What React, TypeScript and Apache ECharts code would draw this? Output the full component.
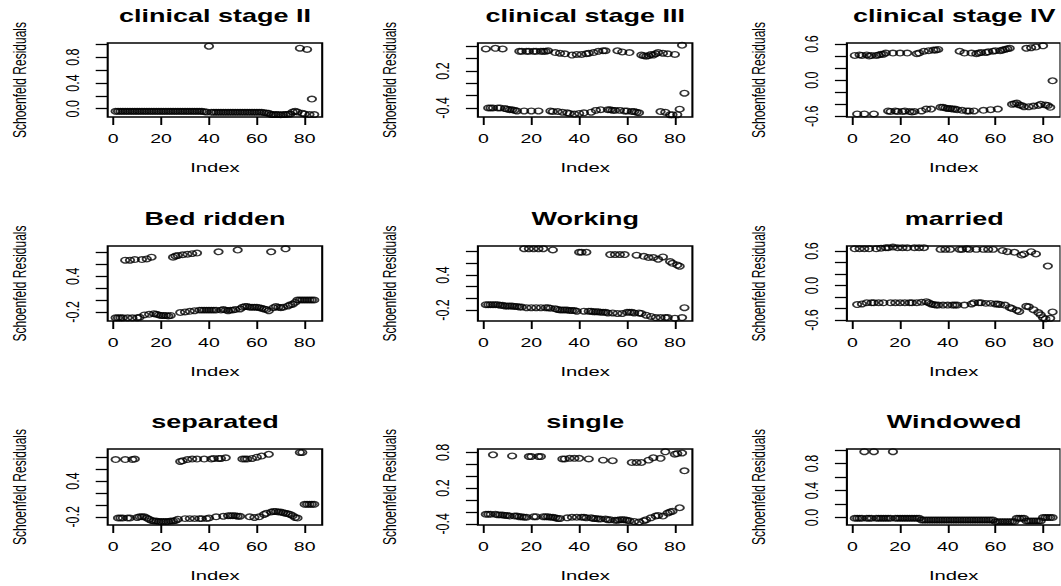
import { useEffect, useRef } from "react";
import * as echarts from "echarts";

// ---------- data ----------
const index: number[] = Array.from({ length: 84 }, (_, i) => i + 1);

const panelTitles = [
  "clinical stage II", "clinical stage III", "clinical stage IV",
  "Bed ridden", "Working", "married",
  "separated", "single", "Windowed",
];

const stageII = [
  -0.04, -0.04, -0.04, -0.04, -0.04, -0.04, -0.04, -0.04, -0.04, -0.04,
  -0.04, -0.04, -0.04, -0.04, -0.04, -0.04, -0.04, -0.04, -0.04, -0.04,
  -0.04, -0.04, -0.04, -0.04, -0.04, -0.04, -0.04, -0.04, -0.04, -0.04,
  -0.04, -0.04, -0.04, -0.04, -0.04, -0.04, -0.04, -0.045, -0.05, 0.97,
  -0.055, -0.055, -0.055, -0.055, -0.055, -0.055, -0.055, -0.055, -0.055, -0.055,
  -0.055, -0.055, -0.055, -0.055, -0.055, -0.055, -0.055, -0.055, -0.055, -0.055,
  -0.055, -0.055, -0.06, -0.065, -0.07, -0.09, -0.09, -0.09, -0.09, -0.095,
  -0.09, -0.09, -0.085, -0.08, -0.05, -0.04, -0.05, 0.94, -0.07, -0.08,
  0.92, -0.09, 0.15, -0.09,
];

const stageIII = [
  0.56, -0.40, -0.40, -0.40, 0.57, -0.40, -0.40, 0.56, -0.41, -0.42,
  -0.43, -0.43, -0.44, -0.45, 0.52, 0.52, -0.45, 0.52, 0.52, -0.45,
  0.52, 0.52, -0.45, 0.52, 0.52, 0.52, 0.53, -0.45, -0.46, 0.50,
  -0.46, 0.49, -0.47, 0.48, -0.48, -0.49, 0.46, -0.50, 0.47, -0.49,
  0.47, -0.48, 0.48, 0.49, -0.47, 0.50, -0.44, 0.52, -0.43, 0.53,
  0.53, -0.43, -0.43, -0.44, -0.44, 0.53, -0.44, 0.51, -0.45, -0.45,
  0.50, -0.46, -0.46, -0.47, -0.48, 0.46, 0.45, 0.44, 0.45, 0.47,
  0.46, 0.48, 0.50, -0.46, 0.49, -0.47, 0.48, -0.51, -0.51, 0.47,
  -0.51, -0.42, 0.62, -0.16,
];

const stageIV = [
  0.41, -0.56, 0.42, 0.41, -0.56, 0.42, 0.40, 0.41, -0.56, 0.41,
  0.42, 0.43, 0.43, 0.45, -0.51, -0.52, 0.45, -0.51, -0.52, 0.45,
  -0.52, -0.51, 0.45, -0.52, -0.53, -0.52, 0.44, 0.45, -0.51, 0.48,
  -0.48, 0.49, -0.48, 0.50, 0.50, 0.51, -0.45, -0.45, -0.46, -0.47,
  -0.47, -0.48, -0.48, -0.49, 0.48, -0.50, 0.45, -0.51, -0.51, 0.45,
  -0.51, 0.44, 0.45, 0.46, -0.50, 0.46, 0.47, -0.49, 0.48, 0.49,
  -0.48, 0.49, 0.50, 0.51, 0.52, 0.53, -0.40, -0.39, -0.38, -0.41,
  -0.42, -0.44, 0.53, -0.44, 0.54, -0.43, 0.55, -0.42, -0.40, 0.57,
  -0.41, -0.42, -0.45, -0.01,
];

const bedRidden = [
  -0.30, -0.30, -0.30, -0.30, 0.67, -0.30, 0.67, -0.30, 0.68, -0.30,
  -0.29, 0.68, -0.25, 0.69, -0.24, 0.72, -0.23, -0.24, -0.25, -0.26,
  -0.26, -0.26, -0.27, -0.26, 0.72, 0.74, 0.75, -0.21, 0.76, -0.20,
  0.77, -0.19, 0.78, -0.18, 0.79, -0.17, -0.17, -0.17, -0.17, -0.17,
  -0.17, -0.17, -0.17, 0.81, -0.17, -0.16, -0.17, -0.18, -0.17, -0.17,
  -0.16, 0.84, -0.15, -0.12, -0.11, -0.11, -0.12, -0.12, -0.12, -0.12,
  -0.13, -0.14, -0.15, -0.16, -0.18, 0.81, -0.13, -0.11, -0.12, -0.13,
  -0.12, 0.86, -0.10, -0.08, -0.07, -0.04, 0.00, 0.00, 0.00, 0.00,
  0.00, 0.00, 0.00, 0.00,
];

const working = [
  -0.11, -0.11, -0.11, -0.11, -0.11, -0.11, -0.12, -0.12, -0.13, -0.13,
  -0.13, -0.13, -0.14, -0.14, -0.15, -0.15, 0.85, -0.16, 0.85, -0.16,
  0.85, -0.16, 0.85, -0.16, 0.85, -0.16, -0.16, -0.17, 0.83, -0.18,
  -0.19, -0.20, -0.20, -0.20, -0.20, -0.21, -0.21, -0.21, -0.22, 0.79,
  0.79, -0.22, 0.79, -0.22, -0.22, -0.23, -0.23, -0.23, -0.24, -0.24,
  -0.24, -0.25, 0.75, -0.25, 0.75, -0.26, 0.75, -0.26, 0.75, -0.24,
  -0.24, -0.24, -0.25, 0.74, -0.25, -0.26, 0.72, -0.29, 0.70, -0.31,
  0.70, -0.33, 0.67, -0.33, 0.71, -0.33, -0.33, 0.63, 0.60, -0.34,
  0.57, 0.55, -0.33, -0.16,
];

const married = [
  0.64, -0.33, 0.64, -0.32, 0.64, -0.30, 0.64, -0.30, -0.30, 0.64,
  -0.30, 0.65, -0.30, 0.66, 0.66, -0.30, 0.67, -0.30, 0.66, -0.30,
  0.66, -0.30, 0.66, -0.30, -0.30, 0.66, -0.30, 0.66, -0.29, 0.66,
  -0.28, -0.30, -0.32, -0.33, -0.34, -0.34, 0.63, -0.34, 0.63, -0.34,
  0.63, -0.34, -0.34, -0.34, 0.63, 0.63, -0.34, 0.64, 0.63, -0.32,
  -0.30, 0.63, -0.30, -0.30, 0.63, -0.31, 0.63, -0.31, 0.63, -0.32,
  -0.32, -0.33, 0.61, -0.34, 0.59, -0.38, -0.40, 0.58, -0.43, -0.45,
  0.53, 0.55, -0.36, -0.37, 0.59, -0.42, 0.55, -0.47, -0.51, -0.56,
  -0.58, 0.34, -0.57, -0.46,
];

const separated = [
  0.76, -0.22, -0.22, -0.22, 0.76, -0.22, -0.22, 0.76, 0.77, -0.21,
  -0.20, -0.20, -0.20, -0.22, -0.24, -0.26, -0.27, -0.27, -0.28, -0.28,
  -0.28, -0.28, -0.28, -0.27, -0.27, -0.26, -0.24, 0.73, 0.74, -0.23,
  0.76, -0.23, 0.77, -0.23, 0.77, -0.23, -0.23, 0.77, -0.23, -0.22,
  0.77, 0.78, -0.20, 0.78, 0.78, -0.19, 0.79, -0.18, -0.18, -0.18,
  -0.18, -0.19, -0.19, 0.77, 0.77, 0.77, -0.20, 0.78, -0.21, 0.80,
  -0.20, 0.82, -0.16, -0.14, 0.85, -0.12, -0.11, -0.11, -0.12, -0.12,
  -0.13, -0.14, -0.15, -0.16, -0.18, -0.21, -0.22, 0.88, 0.88, 0.01,
  0.01, 0.01, 0.01, 0.01,
];

const single = [
  -0.24, -0.24, -0.24, 0.76, -0.24, -0.25, -0.25, -0.25, -0.26, -0.26,
  -0.27, 0.74, -0.27, -0.27, -0.28, -0.28, -0.29, -0.29, 0.73, 0.73,
  -0.28, -0.28, 0.73, 0.73, -0.28, -0.28, -0.28, -0.29, -0.29, -0.30,
  -0.31, -0.31, 0.69, 0.69, -0.30, 0.70, -0.29, 0.70, -0.29, 0.70,
  -0.29, -0.29, -0.30, 0.69, -0.30, -0.31, -0.31, -0.32, -0.32, 0.67,
  -0.32, -0.33, -0.33, 0.66, -0.34, -0.34, -0.33, -0.33, -0.33, -0.34,
  -0.35, 0.63, -0.36, 0.63, -0.37, 0.63, -0.35, -0.33, 0.67, -0.30,
  0.71, -0.27, -0.26, 0.70, -0.27, 0.81, -0.22, -0.20, -0.19, 0.77,
  0.78, -0.13, 0.79, 0.49,
];

const windowed = [
  -0.01, -0.01, -0.01, -0.01, 0.975, -0.01, -0.01, -0.01, 0.975, -0.01,
  -0.01, -0.01, -0.01, -0.01, -0.01, -0.01, 0.975, -0.01, -0.01, -0.01,
  -0.01, -0.01, -0.01, -0.01, -0.01, -0.01, -0.01, -0.01, -0.035, -0.035,
  -0.035, -0.035, -0.035, -0.035, -0.035, -0.035, -0.035, -0.035, -0.035, -0.035,
  -0.035, -0.035, -0.035, -0.035, -0.035, -0.035, -0.035, -0.035, -0.035, -0.035,
  -0.035, -0.035, -0.035, -0.035, -0.035, -0.035, -0.035, -0.035, -0.035, -0.06,
  -0.06, -0.06, -0.06, -0.06, -0.06, -0.06, -0.06, -0.06, -0.01, -0.01,
  -0.01, -0.01, -0.05, -0.05, -0.05, -0.05, -0.05, -0.05, -0.05, 0.0,
  0.0, 0.0, 0.0, 0.0,
];

const panelValues = [stageII, stageIII, stageIV, bedRidden, working, married, separated, single, windowed];

const yMin = [-0.128, -0.548, -0.611, -0.353, -0.389, -0.617, -0.337, -0.42, -0.11];
const yMax = [1.02, 0.656, 0.617, 0.908, 0.897, 0.689, 0.938, 0.857, 1.015];

const yTickValues = [
  [0, 0.2, 0.4, 0.6, 0.8, 1.0],
  [-0.4, -0.2, 0, 0.2, 0.4, 0.6],
  [-0.6, -0.4, -0.2, 0, 0.2, 0.4, 0.6],
  [-0.2, 0, 0.2, 0.4, 0.6, 0.8],
  [-0.2, 0, 0.2, 0.4, 0.6, 0.8],
  [-0.6, -0.4, -0.2, 0, 0.2, 0.4, 0.6],
  [-0.2, 0, 0.2, 0.4, 0.6, 0.8],
  [-0.4, -0.2, 0, 0.2, 0.4, 0.6, 0.8],
  [0, 0.2, 0.4, 0.6, 0.8, 1.0],
];
const yLabelValues = [
  [0, 0.4, 0.8],
  [-0.4, 0.2],
  [-0.6, 0, 0.6],
  [-0.2, 0.4],
  [-0.2, 0.4],
  [-0.6, 0, 0.6],
  [-0.2, 0.4],
  [-0.4, 0.2, 0.8],
  [0, 0.4, 0.8],
];
const xTickValues = [0, 20, 40, 60, 80];

// ---------- layout (unstretched coordinates; page is stretched 1.5x horizontally) ----------
const STRETCH = 1.5;
const colLeft = [71.8, 318.6, 564.6];
const rowTop = [43, 246, 449];
const rowHeight = [74, 75, 76];
const plotWidth = 143;
const FONT = "'Liberation Sans', Arial, sans-serif";

export default function App() {
  const ref = useRef<HTMLDivElement>(null);

  useEffect(() => {
    if (!ref.current) return;
    const chart = echarts.init(ref.current, null, { renderer: "svg" });

    const grids: any[] = [];
    const xAxes: any[] = [];
    const yAxes: any[] = [];
    const series: any[] = [];
    const titles: any[] = [];

    panelValues.forEach((vals, i) => {
      const r = Math.floor(i / 3);
      const c = i % 3;
      grids.push({
        left: colLeft[c],
        top: rowTop[r],
        width: plotWidth,
        height: rowHeight[r],
        show: true,
        borderColor: "#000",
        borderWidth: 1.4,
        backgroundColor: "transparent",
        containLabel: false,
      });
      titles.push({
        text: panelTitles[i],
        left: colLeft[c] + plotWidth / 2,
        top: rowTop[r] - 37,
        textAlign: "center",
        padding: 0,
        textStyle: { fontSize: 18, fontWeight: "bold", color: "#000", fontFamily: FONT, lineHeight: 20 },
      });
      xAxes.push({
        type: "value",
        gridIndex: i,
        position: "bottom",
        min: -2.32,
        max: 87.32,
        splitLine: { show: false },
        axisLine: { show: false, onZero: false },
        axisTick: { show: true, length: 8, customValues: xTickValues, lineStyle: { color: "#000", width: 1.3 } },
        axisLabel: {
          customValues: xTickValues,
          margin: 15,
          fontSize: 13,
          color: "#000",
          fontFamily: FONT,
          formatter: (v: number) => String(v),
        },
        name: "Index",
        nameLocation: "middle",
        nameGap: 43,
        nameTextStyle: { fontSize: 13.5, color: "#000", fontFamily: FONT },
      });
      yAxes.push({
        type: "value",
        gridIndex: i,
        position: "left",
        min: yMin[i],
        max: yMax[i],
        splitLine: { show: false },
        axisLine: { show: false, onZero: false },
        axisTick: { show: true, length: 8, customValues: yTickValues[i], lineStyle: { color: "#000", width: 1.3 } },
        axisLabel: {
          customValues: yLabelValues[i],
          rotate: 90,
          margin: 17,
          fontSize: 12.5,
          color: "#000",
          fontFamily: FONT,
          formatter: (v: number) => Number(v).toFixed(1),
        },
        name: "Schoenfeld Residuals",
        nameLocation: "middle",
        nameRotate: 90,
        nameGap: 53,
        nameTextStyle: { fontSize: 12, color: "#000", fontFamily: FONT },
      });
      series.push({
        type: "scatter",
        xAxisIndex: i,
        yAxisIndex: i,
        data: index.map((x, j) => [x, vals[j]]),
        symbol: "circle",
        symbolSize: 5.6,
        clip: false,
        silent: true,
        itemStyle: { color: "rgba(0,0,0,0)", borderColor: "#000", borderWidth: 1.3 },
      });
    });

    chart.setOption({
      animation: false,
      backgroundColor: "#fff",
      title: titles,
      grid: grids,
      xAxis: xAxes,
      yAxis: yAxes,
      series,
    });

    return () => chart.dispose();
  }, []);

  return (
    <div style={{ position: "absolute", left: 0, top: 0, width: 1061, height: 586, overflow: "hidden", background: "#fff" }}>
      <div
        ref={ref}
        style={{ width: 1061 / STRETCH, height: 586, transform: `scaleX(${STRETCH})`, transformOrigin: "0 0" }}
      />
    </div>
  );
}
